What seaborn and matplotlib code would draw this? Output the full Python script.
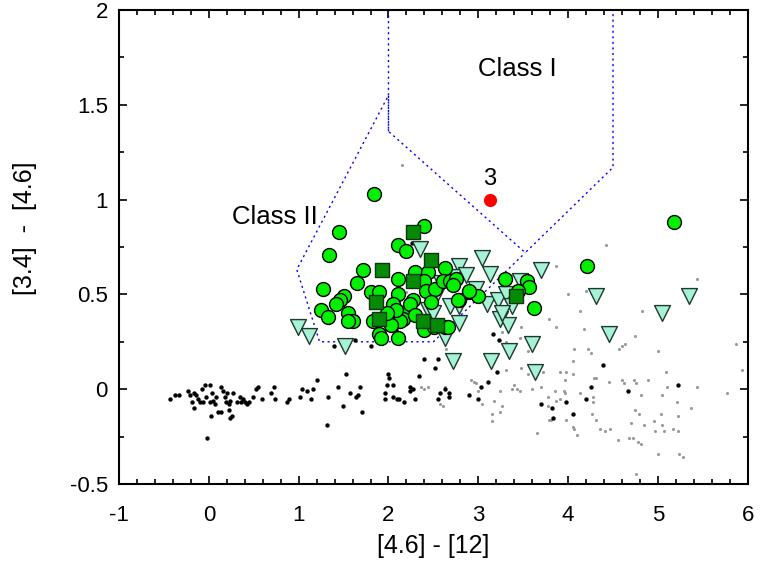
import matplotlib
matplotlib.use("Agg")
import matplotlib.pyplot as plt
from matplotlib.ticker import MultipleLocator
import numpy as np
import pandas as pd
import seaborn as sns

# colour-colour data: [4.6]-[12] (x) vs [3.4]-[4.6] (y)
circle_x = [1.84, 2.39, 1.45, 2.11, 2.20, 1.34, 1.72, 2.29, 2.44, 2.63, 2.11, 1.65, 1.27,
            2.39, 2.42, 2.52, 2.61, 2.68, 2.75, 1.80, 1.90, 2.11, 1.51, 1.46, 1.42, 2.27,
            2.05, 1.25, 1.33, 1.55, 1.61, 1.55, 2.22, 2.24, 2.16, 2.13, 2.03, 1.83, 1.90,
            1.92, 2.11, 2.39, 2.63, 2.79, 2.90, 3.00, 2.72, 3.30, 3.54, 3.57, 3.44, 3.62,
            2.77, 2.66, 4.21, 5.18, 2.90, 2.51, 2.30, 2.08, 2.47, 1.98]
circle_y = [1.03, 0.86, 0.83, 0.76, 0.73, 0.71, 0.63, 0.62, 0.62, 0.64, 0.58, 0.56, 0.53,
            0.57, 0.52, 0.53, 0.57, 0.57, 0.58, 0.51, 0.51, 0.50, 0.49, 0.47, 0.45, 0.47,
            0.45, 0.42, 0.38, 0.40, 0.36, 0.36, 0.42, 0.45, 0.37, 0.36, 0.34, 0.36, 0.29,
            0.27, 0.27, 0.31, 0.33, 0.47, 0.51, 0.49, 0.55, 0.58, 0.57, 0.54, 0.52, 0.43,
            0.47, 0.33, 0.65, 0.88, 0.52, 0.33, 0.39, 0.42, 0.46, 0.40]

square_x = [2.27, 1.93, 2.47, 2.27, 1.86, 1.90, 2.38, 2.54, 3.42]
square_y = [0.83, 0.63, 0.68, 0.57, 0.46, 0.37, 0.36, 0.34, 0.49]

tri_x = [0.99, 1.11, 1.52, 2.35, 2.79, 2.72, 2.53, 2.44, 2.50, 2.68, 2.79, 2.63, 2.72,
         3.04, 3.13, 3.70, 3.46, 2.98, 2.79, 3.10, 3.22, 3.31, 3.38, 3.24, 3.33, 3.60,
         3.34, 3.14, 3.63, 4.31, 5.35, 5.05, 4.45, 2.58, 2.86, 3.26]
tri_y = [0.33, 0.28, 0.23, 0.74, 0.65, 0.59, 0.49, 0.42, 0.40, 0.44, 0.35, 0.27, 0.15,
         0.69, 0.61, 0.63, 0.57, 0.53, 0.44, 0.45, 0.47, 0.50, 0.44, 0.37, 0.34, 0.24,
         0.20, 0.15, 0.09, 0.49, 0.49, 0.40, 0.29, 0.56, 0.60, 0.40]

black_x = [-0.43, -0.38, -0.33, -0.21, -0.19, -0.16, -0.14, -0.12, -0.17, -0.10, -0.06,
           -0.04, 0.01, -0.03, 0.03, 0.05, 0.01, 0.07, 0.10, 0.13, 0.02, 0.14, 0.16, 0.18,
           0.08, 0.20, 0.23, 0.19, 0.22, 0.24, 0.26, 0.22, 0.31, 0.35, 0.38, 0.40, 0.42,
           0.45, 0.36, 0.49, 0.53, 0.55, 0.59, 0.69, 0.72, 0.74, 0.87, 0.89, 1.02, 1.04,
           1.09, 1.14, 1.16, 1.20, 1.31, 1.33, 1.44, 1.49, 1.53, 1.57, 1.64, 1.66, 1.68,
           1.71, -0.02, 1.96, 1.96, 1.98, 2.00, 2.01, 2.05, 2.05, 2.09, 2.12, 2.17, 2.24,
           2.24, 2.29, 2.27, 2.34, 2.52, 2.55, 2.57, 2.63, 2.67, 2.67, -0.23, -0.08, 0.27,
           2.26, 1.63, 1.39, 1.81, 2.08, 2.39, 2.55, 3.16, 3.23, 3.21, 3.11, 3.03, 2.90,
           3.00, 3.70, 3.82, 3.83, 3.98, 4.06, 4.20, 4.25, 4.39, 4.67, 5.22]
black_y = [-0.05, -0.03, -0.03, -0.03, -0.07, -0.02, -0.03, -0.05, -0.10, -0.07, -0.07,
           0.02, 0.02, -0.04, -0.02, -0.06, -0.07, -0.08, -0.12, -0.12, -0.14, 0.01, -0.01,
           -0.04, -0.04, -0.02, -0.06, -0.07, -0.11, -0.15, -0.14, -0.08, -0.07, -0.04,
           -0.05, -0.07, -0.08, -0.07, -0.07, -0.04, 0.00, 0.01, -0.05, -0.02, 0.01, -0.05,
           -0.07, -0.05, -0.04, 0.00, -0.01, -0.05, 0.00, 0.05, -0.19, -0.04, 0.01, -0.09,
           0.08, -0.02, -0.04, -0.03, 0.01, -0.12, -0.26, -0.02, -0.05, 0.02, 0.08, 0.06,
           0.02, -0.04, -0.05, -0.05, -0.07, 0.01, -0.01, -0.05, 0.00, 0.07, 0.11, -0.05,
           -0.02, 0.00, -0.02, -0.04, -0.01, 0.00, -0.02,
           0.77, 0.26, 0.23, 0.23, 0.31, 0.16, 0.16, 0.29, 0.26, 0.09, 0.04, 0.01, -0.03,
           -0.05, -0.08, -0.10, -0.15, -0.07, -0.13, -0.05, 0.01, 0.13, -0.01, 0.02]

grey_x = [2.15, 4.42, 3.87, 5.44, 4.00, 4.20, 4.13, 4.82, 3.79, 3.86, 4.18, 3.47, 3.46,
          4.74, 4.07, 4.22, 4.26, 4.57, 4.60, 4.63, 5.00, 5.87, 5.94, 4.05, 3.98, 4.06,
          3.91, 3.48, 3.55, 3.72, 3.96, 4.29, 4.31, 4.60, 4.62, 4.73, 4.76, 4.89, 5.09,
          4.46, 4.81, 5.04, 5.10, 5.44, 5.77, 3.46, 3.38, 3.24, 3.18, 3.26, 3.24, 3.15,
          3.15, 3.00, 3.04, 2.92, 2.98, 2.95, 2.63, 2.61, 3.78, 3.85, 3.95, 3.97, 3.91,
          3.86, 3.78, 3.79, 3.81, 3.98, 4.05, 4.07, 4.10, 4.13, 4.28, 4.28, 4.27, 4.31,
          4.36, 4.41, 4.47, 4.55, 4.68, 4.72, 4.78, 4.81, 4.70, 4.74, 4.79, 4.84, 4.96,
          4.97, 5.03, 5.04, 5.07, 5.17, 5.22, 5.21, 5.22, 5.37, 5.23, 5.28, 5.00, 4.76,
          3.65, 3.70, 3.60, 3.43, 3.40, 3.31, 3.31, 3.26, 3.55, 2.57, 2.36, 2.40, 2.44,
          2.64, 2.20, 3.38]
grey_y = [1.18, 0.76, 0.65, 0.58, 0.50, 0.52, 0.41, 0.41, 0.37, 0.33, 0.32, 0.33, 0.27,
          0.28, 0.21, 0.21, 0.19, 0.21, 0.23, 0.24, 0.20, 0.24, 0.10, 0.15, 0.09, 0.08,
          0.09, 0.11, 0.08, 0.09, 0.05, 0.06, 0.06, 0.05, 0.03, 0.05, 0.03, 0.05, 0.09,
          0.04, -0.03, -0.03, 0.01, 0.01, -0.02, -0.01, 0.00, -0.01, -0.06, -0.09, -0.12,
          -0.13, -0.17, -0.01, -0.08, 0.05, 0.03, 0.04, 0.01, -0.09, -0.04, -0.01, -0.01,
          -0.02, -0.05, -0.06, -0.09, -0.16, -0.16, -0.16, -0.20, -0.21, -0.24, -0.02,
          -0.04, -0.07, -0.13, -0.16, -0.21, -0.22, -0.21, -0.27, -0.26, -0.26, -0.28,
          -0.29, -0.18, -0.11, -0.13, -0.19, -0.17, -0.22, -0.13, -0.19, -0.22, -0.21,
          -0.22, -0.07, -0.14, -0.10, -0.34, -0.36, -0.34, -0.45, -0.23, 0.01, 0.00, 0.00,
          0.02, 0.10, 0.25, 0.30, 0.20, -0.08, 0.01, 0.00, 0.01, 0.21, 0.51, 0.60]

red_x = [3.13]
red_y = [1.00]
red_label = "3"

# class boundaries (polyline vertices)
class1_x = [2.0, 2.0, 3.523, 4.5, 4.5]
class1_y = [2.0, 1.36, 0.72, 1.17, 2.0]
class2_x = [2.0, 2.0, 0.979, 1.233, 2.5, 3.523]
class2_y = [1.36, 1.55, 0.631, 0.25, 0.25, 0.72]

sns.set_style("ticks")
plt.rcParams['font.family'] = ['Liberation Sans', 'DejaVu Sans']
plt.rcParams['text.color'] = 'black'
plt.rcParams['axes.labelcolor'] = 'black'
plt.rcParams['xtick.color'] = 'black'
plt.rcParams['ytick.color'] = 'black'
plt.rcParams['axes.edgecolor'] = 'black'

fig = plt.figure(figsize=(7.63, 5.65), dpi=100)
ax = fig.add_axes([0.156, 0.1434, 0.824, 0.8389])

dash = (0, (1.5, 2.5))
ax.plot(class1_x, class1_y, color='blue', lw=1.0, ls=dash, zorder=1)
ax.plot(class2_x, class2_y, color='blue', lw=1.0, ls=dash, zorder=1)

sns.scatterplot(x=grey_x, y=grey_y, ax=ax, color='#999999', s=5, linewidth=0, zorder=2)
sns.scatterplot(x=black_x, y=black_y, ax=ax, color='black', s=10, linewidth=0, zorder=3)
sns.scatterplot(x=tri_x, y=tri_y, ax=ax, marker='v', s=130, color='#a6f2d4',
                edgecolor='#1e3a30', linewidth=1.0, zorder=4)
sns.scatterplot(x=circle_x, y=circle_y, ax=ax, marker='o', s=100, color='#00f000',
                edgecolor='black', linewidth=1.0, zorder=5)
sns.scatterplot(x=square_x, y=square_y, ax=ax, marker='s', s=90, color='#058a05',
                edgecolor='#113311', linewidth=1.0, zorder=6)
sns.scatterplot(x=red_x, y=red_y, ax=ax, marker='o', s=90, color='red', linewidth=0, zorder=7)

for rx, ry in zip(red_x, red_y):
    ax.text(rx, ry + 0.05, red_label, ha='center', va='bottom', fontsize=17)
ax.text(3.44, 1.69, "Class I", ha='center', va='center', fontsize=18.5)
ax.text(0.74, 0.91, "Class II", ha='center', va='center', fontsize=18.5)

ax.set_xlim(-1, 6)
ax.set_ylim(-0.5, 2)
ax.xaxis.set_major_locator(MultipleLocator(1))
ax.xaxis.set_minor_locator(MultipleLocator(0.2))
ax.yaxis.set_major_locator(MultipleLocator(0.5))
ax.yaxis.set_minor_locator(MultipleLocator(0.25))
ax.set_xticks(range(-1, 7))
ax.set_xticklabels([str(v) for v in range(-1, 7)])
ax.set_yticks([-0.5, 0, 0.5, 1, 1.5, 2])
ax.set_yticklabels(['-0.5', '0', '0.5', '1', '1.5', '2'])
ax.tick_params(which='both', direction='in', top=True, right=True, labelsize=16, width=1.2)
ax.tick_params(which='major', length=6)
ax.tick_params(axis='x', which='major', pad=15)
ax.tick_params(axis='y', which='major', pad=8)
ax.tick_params(which='minor', length=3.5)
for sp in ax.spines.values():
    sp.set_linewidth(1.5)

ax.set_xlabel("[4.6] - [12]", fontsize=18, labelpad=6)
ax.set_ylabel("[3.4]  -  [4.6]", fontsize=18)
ax.yaxis.set_label_coords(-0.13, 0.54)

fig.savefig("out.png", dpi=100)
